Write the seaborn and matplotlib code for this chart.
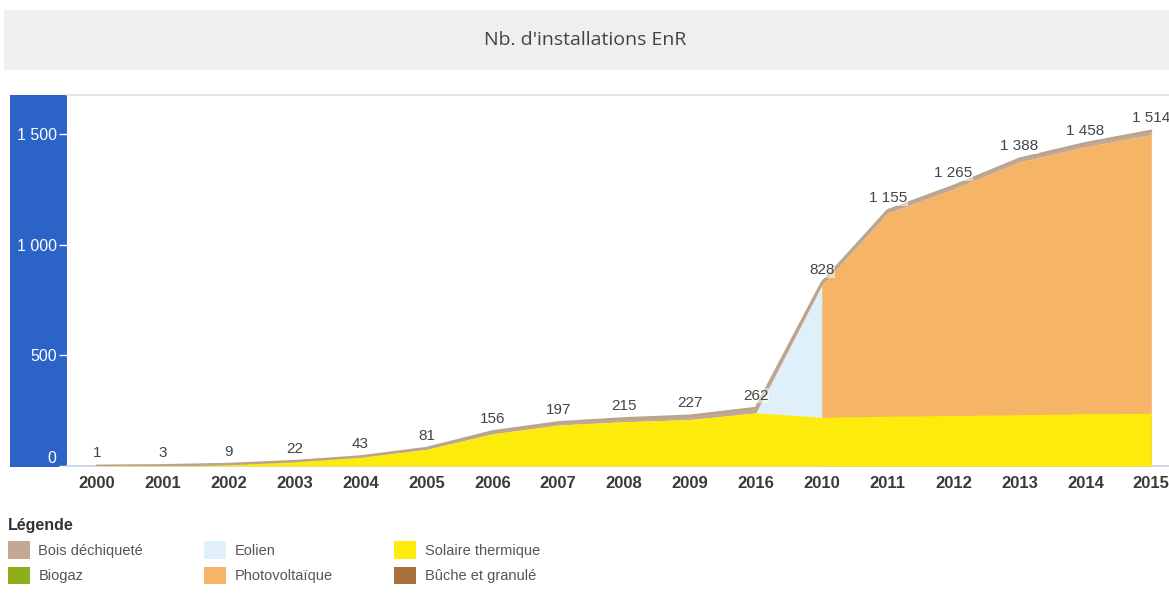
import numpy as np
import matplotlib
matplotlib.use("Agg")
import matplotlib.pyplot as plt
from matplotlib.patches import Patch, Rectangle
import seaborn as sns

# categories (order kept as in the source chart)
years = ["2000", "2001", "2002", "2003", "2004", "2005", "2006", "2007", "2008",
         "2009", "2016", "2010", "2011", "2012", "2013", "2014", "2015"]
totals = [1, 3, 9, 22, 43, 81, 156, 197, 215, 227, 262, 828, 1155, 1265, 1388, 1458, 1514]

# series values (stack bottom -> top)
solaire = [1, 3, 8, 20, 40, 75, 145, 185, 200, 210, 240, 220, 225, 228, 232, 236, 238]
pv = [np.nan] * 11 + [596, 917, 1023, 1141, 1206, 1259]
eolien = [0] * 17
biogaz = [0] * 17
buche = [0] * 17
bois = [0, 0, 1, 2, 3, 6, 11, 12, 15, 17, 22, 12, 13, 14, 15, 16, 17]

names = ["Bois déchiqueté", "Biogaz", "Eolien", "Photovoltaïque",
         "Solaire thermique", "Bûche et granulé"]
colors = {"Bois déchiqueté": "#c4a894", "Biogaz": "#8fae1b", "Eolien": "#e0f0fa",
          "Photovoltaïque": "#f5b466", "Solaire thermique": "#fdeb0c",
          "Bûche et granulé": "#a9713a"}

sns.set_theme(style="white")
plt.rcParams['font.family'] = ['Liberation Sans', 'DejaVu Sans']

fig = plt.figure(figsize=(11.69, 5.97), dpi=100)
W, H = 1169, 597

# title bar
fig.patches.append(Rectangle((4 / W, 1 - 70 / H), 1, 60 / H, transform=fig.transFigure,
                             facecolor="#efefef", edgecolor="none", zorder=-1))
fig.text(585 / W, 1 - 40 / H, "Nb. d'installations EnR", ha="center", va="center",
         fontsize=14, color="#444444", family=["Open Sans", "DejaVu Sans"])

# blue band behind the y axis labels
fig.patches.append(Rectangle((10 / W, 1 - 467 / H), 57 / W, 372 / H, transform=fig.transFigure,
                             facecolor="#2c63c6", edgecolor="none", zorder=-1))

ax = fig.add_axes([67 / W, 1 - 466 / H, 1 - 67 / W, 371 / H])
ax.patch.set_alpha(0)

x = np.arange(len(years))
sol = np.array(solaire, dtype=float)
pv_a = np.array(pv, dtype=float)
pv0 = np.nan_to_num(pv_a)
cum_pv = sol + pv_a
cum_eol = sol + pv0 + np.array(eolien)
cum_top = cum_eol + np.array(biogaz) + np.array(buche) + np.array(bois)

# areas drawn from the top layer down so each covers the one above it
ax.fill_between(x, 0, cum_top, color=colors["Bois déchiqueté"], lw=0, zorder=1)
ax.fill_between(x, 0, cum_eol, color=colors["Eolien"], lw=0, zorder=2)
ax.fill_between(x, 0, cum_pv, color=colors["Photovoltaïque"], lw=0, zorder=3)
ax.fill_between(x, 0, sol, color=colors["Solaire thermique"], lw=0, zorder=4)
sns.lineplot(x=x, y=cum_top, ax=ax, color="#b9a48f", lw=1.8, zorder=5)

for i, v in enumerate(totals):
    ax.annotate(f"{v:,}".replace(",", " "), (i, v), xytext=(0, 9), textcoords="offset points",
                ha="center", va="center", fontsize=11, color="#444444", zorder=6,
                bbox=dict(facecolor="white", edgecolor="none", alpha=0.5, pad=0.5))

ax.set_xlim(-0.455, 16.27)
ax.set_ylim(0, 1676)
ax.set_xticks(x)
ax.set_xticklabels(years, fontsize=12, fontweight="bold", color="#3a3a3a")
ax.set_xticks(x[:-1] + 0.5, minor=True)
ax.tick_params(axis="x", which="major", length=0, pad=7)
ax.tick_params(axis="x", which="minor", length=4, color="#c0d0e0", width=1)
ax.set_yticks([0, 500, 1000, 1500])
ax.set_yticklabels(["0", "500", "1 000", "1 500"], fontsize=11.5, color="white")
ax.tick_params(axis="y", length=6, color="white", width=1, pad=1.5, left=True)
ax.get_yticklabels()[0].set_va("bottom")

for s in ["left", "right"]:
    ax.spines[s].set_visible(False)
ax.spines["top"].set_color("#e0e0e0")
ax.spines["bottom"].set_color("#c8d4e4")
ax.set_xlabel("")
ax.set_ylabel("")

handles = [Patch(facecolor=colors[n], edgecolor="none") for n in names]
leg = fig.legend(handles, names, loc="upper left", bbox_to_anchor=(2 / W, 1 - 512 / H),
                 ncol=3, frameon=False, fontsize=10.5, title="Légende",
                 title_fontproperties={"weight": "bold", "size": 11.5},
                 alignment="left", handlelength=1.5, handleheight=1.5,
                 handletextpad=0.6, columnspacing=4.2, labelspacing=0.55,
                 borderaxespad=0)
for t in leg.get_texts():
    t.set_color("#555555")
leg.get_title().set_color("#333333")

fig.savefig("out.png", dpi=100)
